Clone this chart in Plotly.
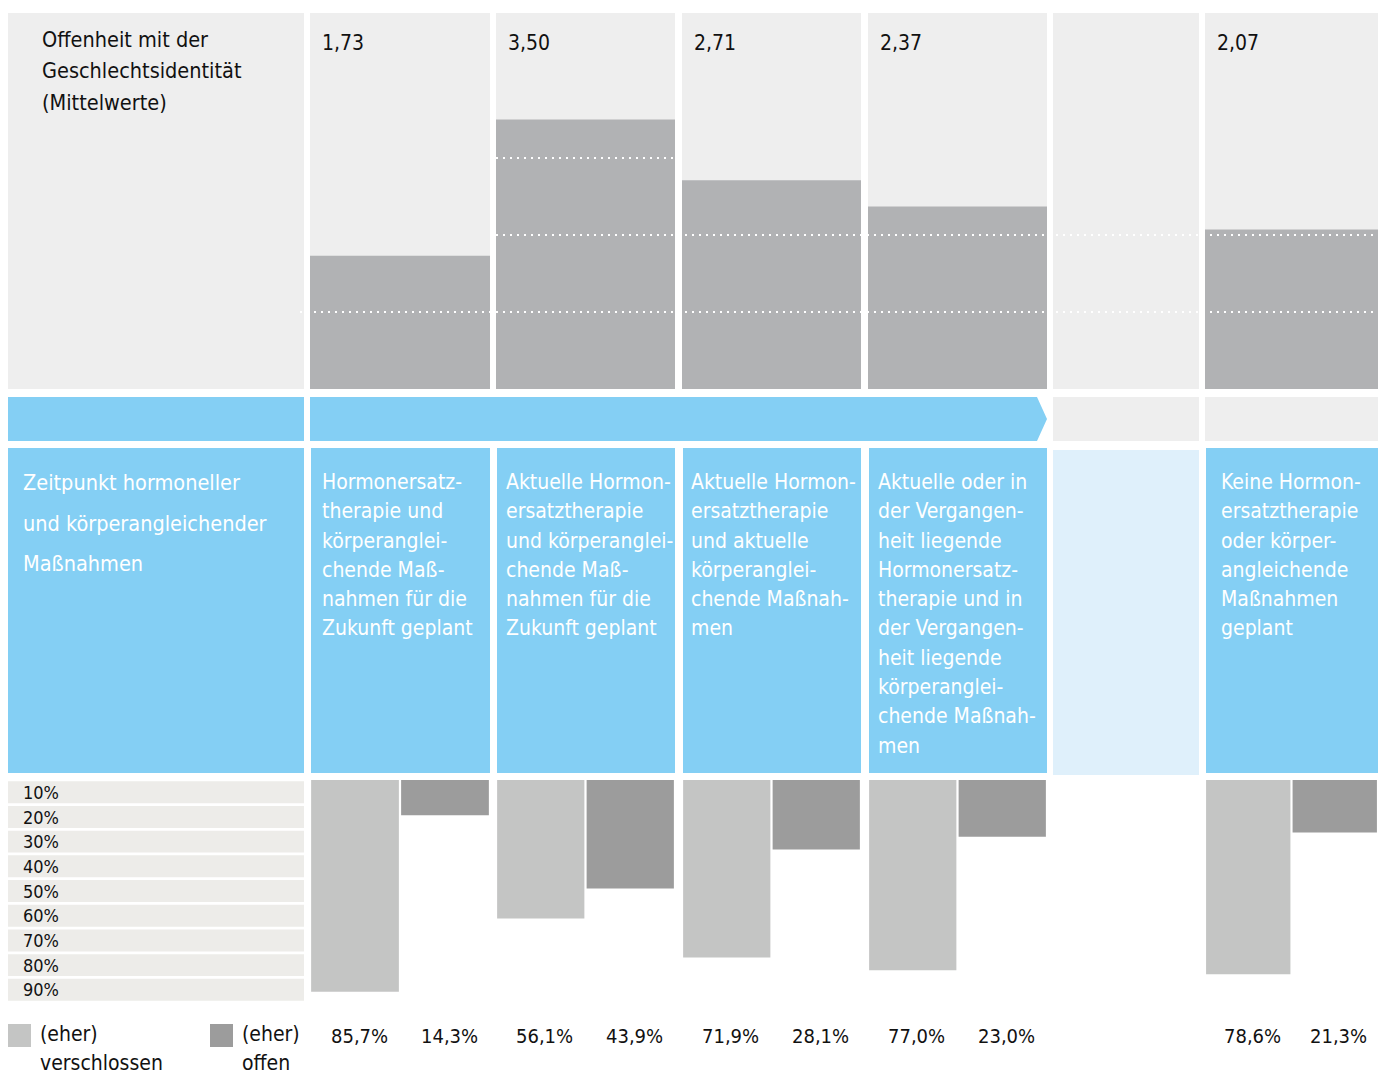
import plotly.graph_objects as go

# ---------------- data ----------------
GROUP_LINES = [
    ["Hormonersatz-", "therapie und", "körperanglei-", "chende Maß-", "nahmen für die", "Zukunft geplant"],
    ["Aktuelle Hormon-", "ersatztherapie", "und körperanglei-", "chende Maß-", "nahmen für die", "Zukunft geplant"],
    ["Aktuelle Hormon-", "ersatztherapie", "und aktuelle", "körperanglei-", "chende Maßnah-", "men"],
    ["Aktuelle oder in", "der Vergangen-", "heit liegende", "Hormonersatz-", "therapie und in", "der Vergangen-",
     "heit liegende", "körperanglei-", "chende Maßnah-", "men"],
    ["Keine Hormon-", "ersatztherapie", "oder körper-", "angleichende", "Maßnahmen", "geplant"],
]
MEANS = [1.73, 3.50, 2.71, 2.37, 2.07]
CLOSED = [85.7, 56.1, 71.9, 77.0, 78.6]
OPEN = [14.3, 43.9, 28.1, 23.0, 21.3]
SERIES = ["verschlossen", "offen"]
LEGEND_LINES = [["(eher)", "verschlossen"], ["(eher)", "offen"]]
TICK_VALUES = [10, 20, 30, 40, 50, 60, 70, 80, 90]
TICK_LABELS = ["10%", "20%", "30%", "40%", "50%", "60%", "70%", "80%", "90%"]
MEAN_GRID = [1, 2, 3]
TITLE_LINES = ["Offenheit mit der", "Geschlechtsidentität", "(Mittelwerte)"]
ROW_LABEL_LINES = ["Zeitpunkt hormoneller", "und körperangleichender", "Maßnahmen"]

# ---------------- layout constants ----------------
W, H = 1378, 1075
FONT = "DejaVu Sans Condensed, Liberation Sans Narrow, sans-serif"
COLS = [(310, 490), (496, 675), (682, 861), (868, 1047), (1205, 1378)]
TEXT_PAD = [10, 8, 7, 8, 14]
EMPTY_COL = (1053, 1199)
LABEL_COL = (8, 304)
TOP = (13, 389)
ARROW = (397, 441)
BOX = (448, 773)
BOTTOM = (780, 1027)
GRID_SPAN = {1: (300, 1378), 2: (496, 1378), 3: (496, 675)}

C_PANEL = "#eeeeee"
C_MEAN = "#b1b2b4"
C_BLUE = "#84cff4"
C_LBLUE = "#dff0fb"
C_CLOSED = "#c4c5c4"
C_OPEN = "#9c9c9c"
C_STRIPE = "#edece9"
C_TEXT = "#111111"

TOP_MAX = (TOP[1] - TOP[0]) / 77.0


def px(x):
    return x / W


def py(y):
    return 1 - y / H


fig = go.Figure()
shapes = []
annotations = []


def rect(x0, y0, x1, y1, color):
    shapes.append(dict(type="rect", xref="paper", yref="paper", x0=px(x0), x1=px(x1),
                       y0=py(y1), y1=py(y0), fillcolor=color, line=dict(width=0), layer="below"))


def text(t, x, y, size, color=C_TEXT, xanchor="left"):
    annotations.append(dict(text=t, x=px(x), y=py(y), xref="paper", yref="paper", showarrow=False,
                            xanchor=xanchor, yanchor="middle", font=dict(family=FONT, size=size, color=color)))


# backgrounds
rect(LABEL_COL[0], TOP[0], LABEL_COL[1], TOP[1], C_PANEL)
for x0, x1 in COLS + [EMPTY_COL]:
    rect(x0, TOP[0], x1, TOP[1], C_PANEL)

# arrow band
rect(LABEL_COL[0], ARROW[0], LABEL_COL[1], ARROW[1], C_BLUE)
ax0, ax1 = COLS[0][0], COLS[3][1]
ym = (ARROW[0] + ARROW[1]) / 2
shapes.append(dict(type="path", xref="paper", yref="paper", fillcolor=C_BLUE, line=dict(width=0), layer="below",
                   path=f"M {px(ax0)},{py(ARROW[0])} L {px(ax1-10)},{py(ARROW[0])} L {px(ax1)},{py(ym)} "
                        f"L {px(ax1-10)},{py(ARROW[1])} L {px(ax0)},{py(ARROW[1])} Z"))
rect(EMPTY_COL[0], ARROW[0], EMPTY_COL[1], ARROW[1], C_PANEL)
rect(COLS[4][0], ARROW[0], COLS[4][1], ARROW[1], C_PANEL)

# blue text boxes
rect(LABEL_COL[0], BOX[0], LABEL_COL[1], BOX[1], C_BLUE)
for x0, x1 in COLS:
    rect(x0 + 1, BOX[0], x1, BOX[1], C_BLUE)
rect(EMPTY_COL[0], BOX[0] + 2, EMPTY_COL[1], BOX[1] + 2, C_LBLUE)

# texts
for i, t in enumerate(TITLE_LINES):
    text(t, 40, 39 + i * 31.5, 21.5)
for i, t in enumerate(ROW_LABEL_LINES):
    text(t, 21, 483 + i * 40, 21.5, "white")
for (x0, x1), pad, lines in zip(COLS, TEXT_PAD, GROUP_LINES):
    for j, t in enumerate(lines):
        text(t, x0 + pad, 482 + j * 29.3, 21, "white")

# legend
for k, (lines, color, lx) in enumerate(zip(LEGEND_LINES, [C_CLOSED, C_OPEN], [8, 210])):
    rect(lx, 1024, lx + 23, 1047, color)
    text(lines[0], lx + 30, 1034, 21)
    text(lines[1], lx + 30, 1063, 21)

layout_axes = {}
for i, (x0, x1) in enumerate(COLS):
    t = i + 1
    b = i + 6
    tn = "" if t == 1 else str(t)
    fig.add_trace(go.Bar(x=["Mittelwert"], y=[MEANS[i]], xaxis=f"x{tn}", yaxis=f"y{tn}", width=1,
                         marker=dict(color=C_MEAN, line=dict(width=0)), hoverinfo="skip", showlegend=False))
    fig.add_trace(go.Bar(x=SERIES, y=[CLOSED[i], OPEN[i]], xaxis=f"x{b}", yaxis=f"y{b}", width=0.975,
                         marker=dict(color=[C_CLOSED, C_OPEN], line=dict(width=0)), hoverinfo="skip",
                         showlegend=False))
    hidden = dict(showgrid=False, zeroline=False, showticklabels=False, showline=False, ticks="", fixedrange=True)
    layout_axes[f"xaxis{tn}"] = dict(domain=[px(x0), px(x1)], anchor=f"y{tn}", range=[-0.5, 0.5], **hidden)
    layout_axes[f"yaxis{tn}"] = dict(domain=[py(TOP[1]), py(TOP[0])], anchor=f"x{tn}", range=[0, TOP_MAX], **hidden)
    layout_axes[f"xaxis{b}"] = dict(domain=[px(x0), px(x1)], anchor=f"y{b}", range=[-0.5, 1.5], **hidden)
    layout_axes[f"yaxis{b}"] = dict(domain=[py(BOTTOM[1]), py(BOTTOM[0])], anchor=f"x{b}", range=[100, 0], **hidden)

    # mean value label
    annotations.append(dict(text=f"{MEANS[i]:.2f}".replace(".", ","), x=px(x0 + 10), y=py(43), xref="paper",
                            yref="paper", showarrow=False, xanchor="left", yanchor="middle",
                            font=dict(family=FONT, size=21, color=C_TEXT)))
    # percentage labels
    for s, v in zip(SERIES, [CLOSED[i], OPEN[i]]):
        annotations.append(dict(text=f"{v:.1f}".replace(".", ",") + "%", x=s, xref=f"x{b}", y=py(1036),
                                yref="paper", showarrow=False, xanchor="center", yanchor="middle",
                                xshift=4, font=dict(family=FONT, size=20, color=C_TEXT)))

# dotted gridlines of the mean scale
for g in MEAN_GRID:
    a, bnd = GRID_SPAN[g]
    shapes.append(dict(type="line", xref="paper", yref="y", x0=px(a), x1=px(bnd), y0=g, y1=g,
                       line=dict(color="white", width=2, dash="2px,5px"), layer="above"))

# percentage stripes + tick labels
for v, lab in zip(TICK_VALUES, TICK_LABELS):
    shapes.append(dict(type="rect", xref="paper", yref="y6", x0=px(LABEL_COL[0]), x1=px(LABEL_COL[1]),
                       y0=v - 10 + 0.5, y1=v - 0.6, fillcolor=C_STRIPE, line=dict(width=0), layer="below"))
    annotations.append(dict(text=lab, x=px(21), xref="paper", y=v - 5, yref="y6", showarrow=False,
                            xanchor="left", yanchor="middle", font=dict(family=FONT, size=18, color=C_TEXT)))

fig.update_layout(
    width=W, height=H, margin=dict(l=0, r=0, t=0, b=0),
    paper_bgcolor="white", plot_bgcolor="rgba(0,0,0,0)",
    shapes=shapes, annotations=annotations, showlegend=False,
    font=dict(family=FONT), **layout_axes,
)

fig.write_html("out.html", config={"displayModeBar": False},
               post_script="document.body.style.margin='0';document.body.style.overflow='hidden';")
